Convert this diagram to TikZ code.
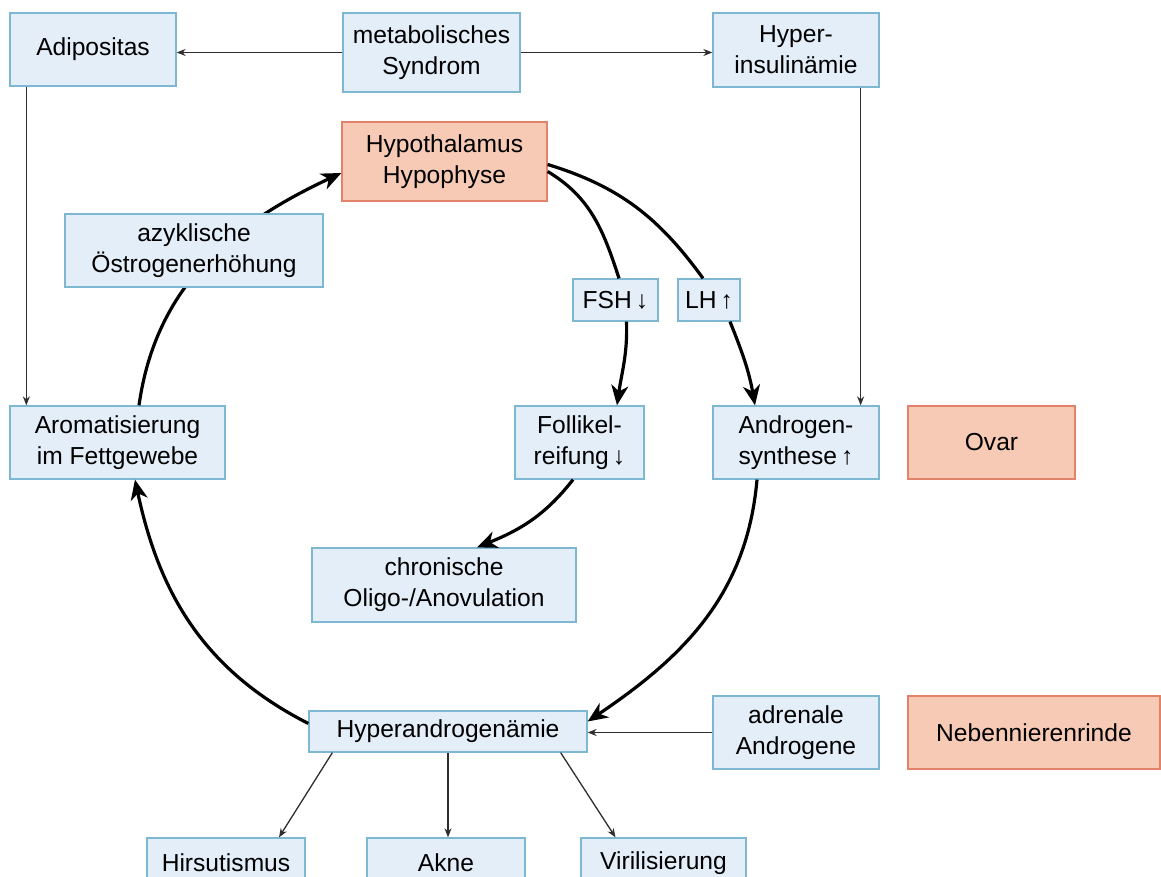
\documentclass[tikz,border=0pt]{standalone}
\usepackage{fontspec}
\setmainfont{Liberation Sans}
\usetikzlibrary{arrows.meta}
\definecolor{fillblue}{HTML}{E4EEF8}
\definecolor{lineblue}{HTML}{7DB7D2}
\definecolor{fillorange}{HTML}{F7CAB5}
\definecolor{lineorange}{HTML}{E2826A}
\definecolor{thinline}{HTML}{2E2E2E}
\tikzset{
  bw/.style={minimum width=#1pt},
  bh/.style={minimum height=#1pt},
  bluebox/.style={draw=lineblue, fill=fillblue, line width=1.3pt, inner sep=0pt, align=center, font=\fontsize{24.6}{31}\selectfont},
  orangebox/.style={draw=lineorange, fill=fillorange, line width=1.3pt, inner sep=0pt, align=center, font=\fontsize{24.6}{31}\selectfont},
  thinarrow/.style={draw=thinline, line width=1.3pt, -{Stealth[length=9pt,width=7pt]}},
  thickarrow/.style={draw=black, line width=3.2pt, -{Stealth[length=20pt,width=17pt,inset=6pt]}},
  thickline/.style={draw=black, line width=3.2pt}
}
\begin{document}
\begin{tikzpicture}[x=1pt,y=1pt]
\useasboundingbox (0,0) rectangle (1161,877);
\clip (0,0) rectangle (1161,877);
\fill[white] (0,0) rectangle (1161,877);

% nodes
\node[bluebox, bw=166, bh=73] (adip) at (93,827.5) {Adipositas};
\node[bluebox, bw=177, bh=79] (metab) at (431.5,824.5) {metabolisches\\Syndrom};
\node[bluebox, bw=166, bh=74] (hins) at (796,827) {Hyper-\\insulinämie};
\node[orangebox, bw=205, bh=79] (hypo) at (444.5,715.5) {Hypothalamus\\Hypophyse};
\node[bluebox, bw=85, bh=42] (fsh) at (615.5,577) {FSH\,↓};
\node[bluebox, bw=62, bh=42] (lh) at (709,577) {LH\,↑};
\node[bluebox, bw=215, bh=73] (arom) at (117.5,434.5) {Aromatisierung\\im Fettgewebe};
\node[bluebox, bw=129, bh=73] (foll) at (579.5,434.5) {Follikel-\\reifung\,↓};
\node[bluebox, bw=166, bh=73] (andr) at (796,434.5) {Androgen-\\synthese\,↑};
\node[orangebox, bw=167, bh=73] (ovar) at (991.5,434.5) {Ovar};
\node[bluebox, bw=264, bh=74] (chron) at (444,292) {chronische\\Oligo-/Anovulation};
\node[bluebox, bw=278, bh=41] (hyper) at (448,145.5) {Hyperandrogenämie};
\node[bluebox, bw=166, bh=73] (adren) at (796,144.5) {adrenale\\Androgene};
\node[orangebox, bw=252, bh=73] (nnr) at (1034,144.5) {Nebennierenrinde};
\node[bluebox, bw=158, bh=50] (hirs) at (226,14) {Hirsutismus};
\node[bluebox, bw=158, bh=50] (akne) at (446,14) {Akne};
\node[bluebox, bw=165, bh=50] (viril) at (663.5,14) {Virilisierung};

% arc behind azyklische box
\draw[thickarrow] ([xshift=21.5pt]arom.north) to[out=82,in=205] ([yshift=-11.5pt]hypo.west);
\node[bluebox, bw=258, bh=73] (azyk) at (194,626.5) {azyklische\\Östrogenerhöhung};

% thin connectors
\draw[thinarrow] (metab.west) -- (metab.west -| adip.east);
\draw[thinarrow] (metab.east) -- (metab.east -| hins.west);
\draw[thinarrow] ([xshift=17pt]adip.south west) -- ([xshift=17pt]adip.south west |- arom.north);
\draw[thinarrow] ([xshift=-19pt]hins.south east) -- ([xshift=-19pt]hins.south east |- andr.north);
\draw[thinarrow] (adren.west) -- (adren.west -| hyper.east);
\draw[thinarrow] ([xshift=24pt]hyper.south west) -- ([xshift=53pt]hirs.north);
\draw[thinarrow] (hyper.south) -- (hyper.south |- akne.north);
\draw[thinarrow] ([xshift=-27pt]hyper.south east) -- ([xshift=-48pt]viril.north);

% thick connectors
\draw[thickline] ([yshift=-10pt]hypo.east) to[out=-31,in=108] ([xshift=3.5pt]fsh.north);
\draw[thickline] ([yshift=-3pt]hypo.east) to[out=-17,in=126] ([xshift=-6pt]lh.north);
\draw[thickarrow] ([xshift=11pt]fsh.south) to[out=-88,in=82] ([xshift=37.5pt]foll.north);
\draw[thickarrow] ([xshift=21pt]lh.south) to[out=-68,in=100] ([xshift=-41pt]andr.north);
\draw[thickarrow] ([xshift=-6.5pt]foll.south) to[out=-128,in=22] ([xshift=33pt]chron.north);
\draw[thickarrow] ([xshift=-39pt]andr.south) to[out=-95,in=34] ([yshift=10pt]hyper.east);
\draw[thickarrow] ([yshift=8pt]hyper.west) to[out=153,in=-78] ([xshift=17.5pt]arom.south);
\end{tikzpicture}
\end{document}
